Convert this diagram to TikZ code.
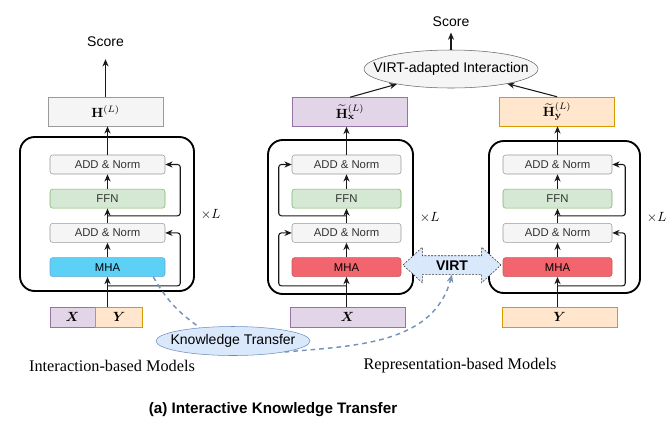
\documentclass[tikz,border=0pt]{standalone}
\usepackage{amsmath,amssymb}
\usepackage[no-math]{fontspec}
\setmainfont{Liberation Sans}
\newfontfamily\modelfont{Liberation Serif}
\usetikzlibrary{positioning,arrows.meta,shapes.geometric,shapes.arrows,calc}
\definecolor{boxfill}{HTML}{F5F5F5}
\definecolor{boxline}{HTML}{9A9A9A}
\definecolor{txtgray}{HTML}{333333}
\definecolor{ffnfill}{HTML}{D5E8D4}
\definecolor{ffnline}{HTML}{82B366}
\definecolor{xfill}{HTML}{E1D5E7}
\definecolor{xline}{HTML}{9673A6}
\definecolor{yfill}{HTML}{FFE6CC}
\definecolor{yline}{HTML}{D79B00}
\definecolor{mhablue}{HTML}{5CD0F5}
\definecolor{mhabline}{HTML}{6CA8D8}
\definecolor{mhared}{HTML}{F2646E}
\definecolor{mharline}{HTML}{C85A5A}
\definecolor{ktfill}{HTML}{DAE8FC}
\definecolor{ktline}{HTML}{6C8EBF}
\definecolor{kdash}{HTML}{7693BB}
\definecolor{arrline}{HTML}{1A1A1A}

\begin{document}
\begin{tikzpicture}[x=0.75pt, y=-0.75pt,
      node distance=11pt,
      box/.style={draw=boxline, fill=boxfill, rounded corners=2pt, inner sep=0pt,
                  minimum width=81.75pt, minimum height=14.25pt, text=txtgray,
                  font=\fontsize{8.5}{10}\selectfont},
      ffn/.style={box, draw=ffnline, fill=ffnfill},
      mha/.style={box, text=black},
      stack/.style={draw, line width=1.4pt, rounded corners=11pt},
      rep/.style={draw=boxline, fill=boxfill, minimum width=86pt, minimum height=21.75pt},
      inp/.style={minimum height=15pt, inner sep=0pt},
      lbl/.style={font=\fontsize{10.5}{12}\selectfont},
      models/.style={font=\modelfont\fontsize{12.2}{14}\selectfont},
      arr/.style={-{Stealth[length=5.5pt,width=4.6pt]}, line width=0.8pt, draw=arrline},
      res/.style={arr, rounded corners=2pt},
      transfer/.style={dash pattern=on 3.5pt off 3pt, line width=1.1pt, draw=kdash}]
    \useasboundingbox (0,0) rectangle (666,425);
    % interaction-based model
    \node[stack, minimum width=130.5pt, minimum height=115.5pt] (blkL) at (107,214) {};
    \node[box, minimum width=86.25pt] (addLa) at (107.5,164.5) {ADD \& Norm};
    \node[ffn, minimum width=86.25pt, below=of addLa] (ffnL) {FFN};
    \node[box, minimum width=86.25pt, below=of ffnL] (addLb) {ADD \& Norm};
    \node[mha, minimum width=86.25pt, fill=mhablue, draw=mhabline, below=of addLb] (mhaL) {MHA};
    \node[rep] (hL) at (105.5,111.5) {$\mathbf{H}^{(L)}$};
    \node[lbl] (scoreL) at (105.5,41.5) {Score};
    \node[inp, draw=xline, fill=xfill, minimum width=33.75pt] (xL) at (72.5,317) {$\boldsymbol{X}$};
    \node[inp, draw=yline, fill=yfill, minimum width=35.25pt, right=0pt of xL] (yL) {$\boldsymbol{Y}$};
    \node[right=1pt of blkL] (timesL) {$\times L$};
    \node[models] (modelsL) at (112,366) {Interaction-based Models};
    % representation-based model, x side
    \node[stack, minimum width=108.75pt, minimum height=115.5pt] (blkM) at (340.5,217) {};
    \node[box] (addMa) at (346.5,164.5) {ADD \& Norm};
    \node[ffn, below=of addMa] (ffnM) {FFN};
    \node[box, below=of ffnM] (addMb) {ADD \& Norm};
    \node[mha, fill=mhared, draw=mharline, below=of addMb] (mhaM) {MHA};
    \node[rep, draw=xline, fill=xfill] (hM) at (350,112) {${\widetilde{\mathbf{H}}}^{(L)}_{\mathbf{x}}$};
    \node[inp, draw=xline, fill=xfill, minimum width=86.25pt] (xM) at (347.5,317) {$\boldsymbol{X}$};
    \node[right=1pt of blkM] (timesM) {$\times L$};
    % representation-based model, y side
    \node[stack, minimum width=113.25pt, minimum height=114pt] (blkR) at (564.5,217) {};
    \node[box] (addRa) at (557.5,164.5) {ADD \& Norm};
    \node[ffn, below=of addRa] (ffnR) {FFN};
    \node[box, below=of ffnR] (addRb) {ADD \& Norm};
    \node[mha, fill=mhared, draw=mharline, below=of addRb] (mhaR) {MHA};
    \node[rep, draw=yline, fill=yfill] (hR) at (557,111.5) {${\widetilde{\mathbf{H}}}^{(L)}_{\mathbf{y}}$};
    \node[inp, draw=yline, fill=yfill, minimum width=86.25pt] (yR) at (559.5,317) {$\boldsymbol{Y}$};
    \node[right=1pt of blkR] (timesR) {$\times L$};
    \node[models] (modelsR) at (460,366) {Representation-based Models};
    % interaction on top, transfer below
    \node[ellipse, draw=black!60, fill=boxfill, minimum width=130.5pt, minimum height=28.5pt,
          inner sep=0pt, lbl] (ellip) at (451,69) {\makebox[0pt]{VIRT-adapted Interaction}};
    \node[lbl] (scoreR) at (451,21.5) {Score};
    \node[ellipse, draw=ktline, fill=ktfill, minimum width=115.5pt, minimum height=21.75pt,
          inner sep=0pt, lbl] (kt) at (233,341) {\makebox[0pt]{Knowledge Transfer}};
    \node[font=\bfseries\fontsize{11.4}{13}\selectfont] (caption) at (273,410) {(a) Interactive Knowledge Transfer};
    % left arrows
    \draw[arr] (mhaL.south |- yL.north) -- (mhaL);
    \draw[arr] (mhaL) -- (addLb);
    \draw[arr] (addLb) -- (ffnL);
    \draw[arr] (ffnL) -- (addLa);
    \draw[arr] (addLa.north) -- (addLa.north |- hL.south);
    \draw[arr, shorten >=6pt] (hL) -- (scoreL);
    \draw[res] ([yshift=-6.75pt]mhaL.south) -| ([xshift=11.25pt]addLb.east) -- (addLb.east);
    \draw[res] ($(addLb.north)!0.5!(ffnL.south)$) -| ([xshift=11.25pt]addLa.east) -- (addLa.east);
    % middle arrows
    \draw[arr] (mhaM.south |- xM.north) -- (mhaM);
    \draw[arr] (mhaM) -- (addMb);
    \draw[arr] (addMb) -- (ffnM);
    \draw[arr] (ffnM) -- (addMa);
    \draw[arr] (addMa.north) -- (addMa.north |- hM.south);
    \draw[res] ([yshift=-6.75pt]mhaM.south) -| ([xshift=-9.75pt]addMb.west) -- (addMb.west);
    \draw[res] ($(addMb.north)!0.5!(ffnM.south)$) -| ([xshift=-9.75pt]addMa.west) -- (addMa.west);
    % right arrows
    \draw[arr] (mhaR.south |- yR.north) -- (mhaR);
    \draw[arr] (mhaR) -- (addRb);
    \draw[arr] (addRb) -- (ffnR);
    \draw[arr] (ffnR) -- (addRa);
    \draw[arr] (addRa.north) -- (addRa.north |- hR.south);
    \draw[res] ([yshift=-6.75pt]mhaR.south) -| ([xshift=9.75pt]addRb.east) -- (addRb.east);
    \draw[res] ($(addRb.north)!0.5!(ffnR.south)$) -| ([xshift=9.75pt]addRa.east) -- (addRa.east);
    \draw[arr] (hM.north) -- (ellip);
    \draw[arr] (hR.north) -- (ellip);
    \draw[arr, shorten >=1pt] (ellip) -- (scoreR);
    % virt
    \node[double arrow, draw=txtgray, dash pattern=on 1.5pt off 1pt, fill=ktfill,
          font=\bfseries\fontsize{10.5}{12}\selectfont, text height=7.5pt, text depth=0pt,
          inner xsep=2pt, inner ysep=3pt, minimum height=73.5pt, minimum width=26.25pt,
          double arrow head extend=6.4pt, double arrow tip angle=85] (virt) at (452,265) {VIRT};
    \draw[transfer] ([xshift=-9pt]mhaL.south east) to[out=-60, in=145] (kt.158);
    \draw[transfer, -{Stealth[length=6pt,width=5pt]}] (kt.-12) to[out=5, in=-105] (virt.south);
  \end{tikzpicture}
\end{document}
